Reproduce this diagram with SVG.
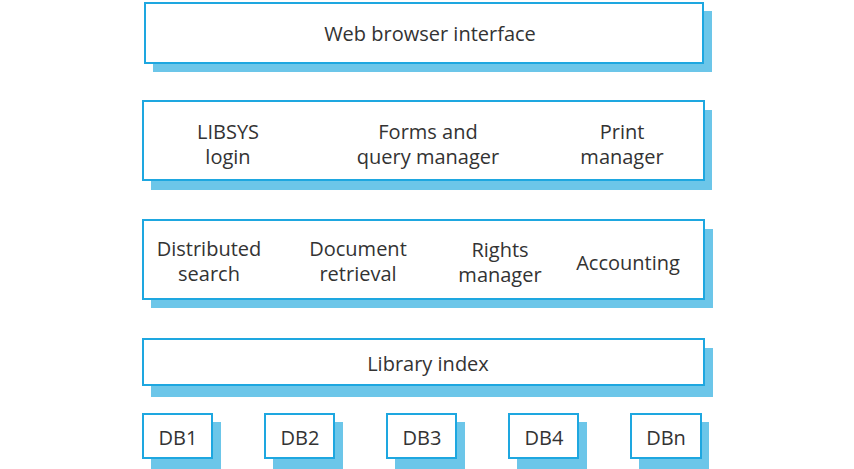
<svg xmlns="http://www.w3.org/2000/svg" width="854" height="469" viewBox="0 0 854 469">
  <style>
    .shadow { fill: #6cc6e9; }
    .box { fill: #ffffff; stroke: #1ea7e0; stroke-width: 2; }
    text { font-family: "Open Sans", "Noto Sans", "DejaVu Sans", sans-serif; font-size: 20px; fill: #333333; text-anchor: middle; }
  </style>
  <rect width="854" height="469" fill="#ffffff"/>

  <g id="web-browser-interface">
    <rect class="shadow" x="153" y="11" width="559" height="61"/>
    <rect class="box" x="145" y="3" width="558" height="60"/>
    <text x="430" y="41">Web browser interface</text>
  </g>

  <g id="ui-layer">
    <rect class="shadow" x="151" y="110" width="561" height="80"/>
    <rect class="box" x="143" y="101" width="561" height="79"/>
    <text x="228" y="139">LIBSYS</text>
    <text x="228" y="164">login</text>
    <text x="428" y="139">Forms and</text>
    <text x="428" y="164">query manager</text>
    <text x="622" y="139">Print</text>
    <text x="622" y="164">manager</text>
  </g>

  <g id="services-layer">
    <rect class="shadow" x="151" y="229" width="562" height="79"/>
    <rect class="box" x="143" y="220" width="561" height="79"/>
    <text x="209" y="256">Distributed</text>
    <text x="209" y="281">search</text>
    <text x="358" y="256">Document</text>
    <text x="358" y="281">retrieval</text>
    <text x="500" y="257">Rights</text>
    <text x="500" y="282">manager</text>
    <text x="628" y="270">Accounting</text>
  </g>

  <g id="library-index">
    <rect class="shadow" x="151" y="348" width="562" height="49"/>
    <rect class="box" x="143" y="339" width="561" height="46"/>
    <text x="428" y="371">Library index</text>
  </g>

  <g id="db1">
    <rect class="shadow" x="151" y="422" width="70" height="50"/>
    <rect class="box" x="143" y="414" width="69" height="44"/>
    <text x="178" y="445">DB1</text>
  </g>
  <g id="db2">
    <rect class="shadow" x="273" y="422" width="70" height="50"/>
    <rect class="box" x="265" y="414" width="69" height="44"/>
    <text x="300" y="445">DB2</text>
  </g>
  <g id="db3">
    <rect class="shadow" x="395" y="422" width="70" height="50"/>
    <rect class="box" x="387" y="414" width="69" height="44"/>
    <text x="422" y="445">DB3</text>
  </g>
  <g id="db4">
    <rect class="shadow" x="517" y="422" width="70" height="50"/>
    <rect class="box" x="509" y="414" width="69" height="44"/>
    <text x="544" y="445">DB4</text>
  </g>
  <g id="dbn">
    <rect class="shadow" x="639" y="422" width="70" height="50"/>
    <rect class="box" x="631" y="414" width="70" height="44"/>
    <text x="666" y="445">DBn</text>
  </g>

  <g id="connectors"></g>
</svg>
